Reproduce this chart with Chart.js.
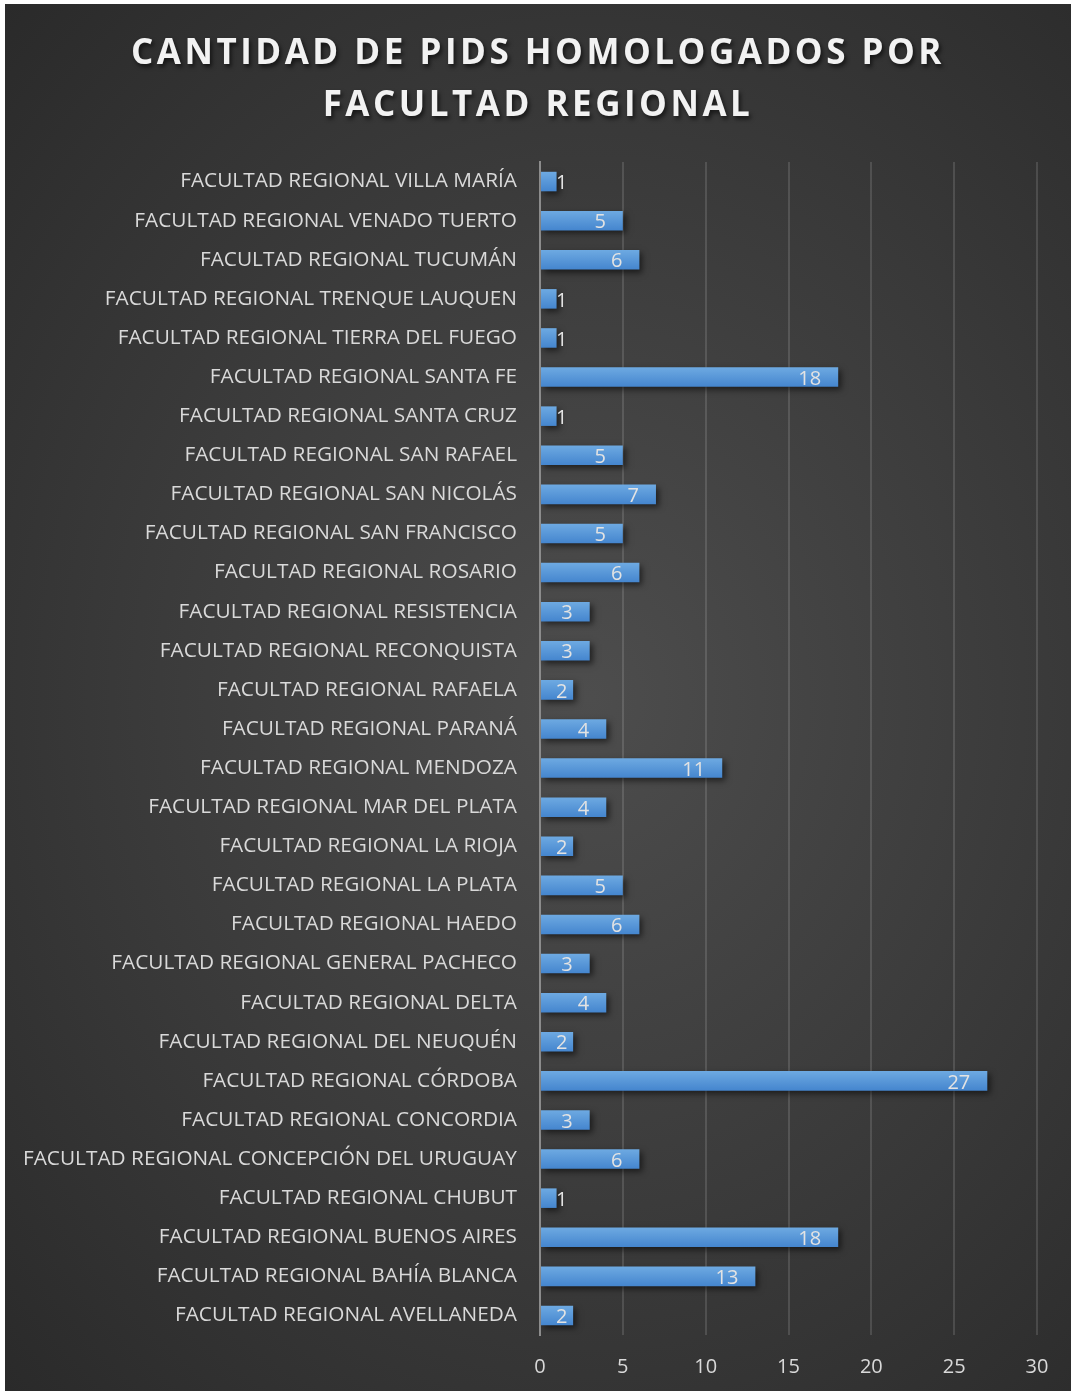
<!DOCTYPE html>
<html>
<head>
<meta charset="utf-8">
<script src="https://cdn.jsdelivr.net/npm/chart.js@4"></script>
<style>
    html, body { margin: 0; padding: 0; background: #ffffff; }
    #wrap {
        position: absolute; left: 5px; top: 4px; width: 1066px; height: 1387px;
        background: radial-gradient(ellipse at 55% 50%, #4d4d4d 0%, #3a3a3a 55%, #2a2a2a 100%);
    }
    #title {
        position: absolute; left: 0; top: 21px; width: 100%;
        text-align: center; color: #f2f2f2;
        font-family: "Open Sans", sans-serif; font-weight: bold; font-size: 35px;
        letter-spacing: 3.5px; line-height: 52px;
        text-shadow: 2px 3px 4px rgba(0, 0, 0, 0.6);
    }
    canvas { position: absolute; left: 0; top: 0; }
</style>
</head>
<body>
<div id="wrap">
    <canvas id="barChart" width="1066" height="1387"></canvas>
    <div id="title">CANTIDAD DE PIDS HOMOLOGADOS POR<br>FACULTAD REGIONAL</div>
</div>
<script>
// categories, top to bottom as in the picture
const facultades = [
    "FACULTAD REGIONAL VILLA MARÍA",
    "FACULTAD REGIONAL VENADO TUERTO",
    "FACULTAD REGIONAL TUCUMÁN",
    "FACULTAD REGIONAL TRENQUE LAUQUEN",
    "FACULTAD REGIONAL TIERRA DEL FUEGO",
    "FACULTAD REGIONAL SANTA FE",
    "FACULTAD REGIONAL SANTA CRUZ",
    "FACULTAD REGIONAL SAN RAFAEL",
    "FACULTAD REGIONAL SAN NICOLÁS",
    "FACULTAD REGIONAL SAN FRANCISCO",
    "FACULTAD REGIONAL ROSARIO",
    "FACULTAD REGIONAL RESISTENCIA",
    "FACULTAD REGIONAL RECONQUISTA",
    "FACULTAD REGIONAL RAFAELA",
    "FACULTAD REGIONAL PARANÁ",
    "FACULTAD REGIONAL MENDOZA",
    "FACULTAD REGIONAL MAR DEL PLATA",
    "FACULTAD REGIONAL LA RIOJA",
    "FACULTAD REGIONAL LA PLATA",
    "FACULTAD REGIONAL HAEDO",
    "FACULTAD REGIONAL GENERAL PACHECO",
    "FACULTAD REGIONAL DELTA",
    "FACULTAD REGIONAL DEL NEUQUÉN",
    "FACULTAD REGIONAL CÓRDOBA",
    "FACULTAD REGIONAL CONCORDIA",
    "FACULTAD REGIONAL CONCEPCIÓN DEL URUGUAY",
    "FACULTAD REGIONAL CHUBUT",
    "FACULTAD REGIONAL BUENOS AIRES",
    "FACULTAD REGIONAL BAHÍA BLANCA",
    "FACULTAD REGIONAL AVELLANEDA"
];

const cantidadPids = [1, 5, 6, 1, 1, 18, 1, 5, 7, 5, 6, 3, 3, 2, 4, 11, 4, 2, 5, 6, 3, 4, 2, 27, 3, 6, 1, 18, 13, 2];

const xTicks = [0, 5, 10, 15, 20, 25, 30];

const FONT = "'Open Sans', sans-serif";
const TEXT_COLOR = "#d9d9d9";

// vertical gradient for each bar (lighter at the top)
function barGradient(context) {
    const chart = context.chart;
    const yScale = chart.scales.y;
    if (!yScale || context.dataIndex === undefined) return "#5b9bd5";
    const yc = yScale.getPixelForValue(context.dataIndex);
    if (!isFinite(yc)) return "#5b9bd5";
    const g = chart.ctx.createLinearGradient(0, yc - 10, 0, yc + 10);
    g.addColorStop(0, "#6eaae2");
    g.addColorStop(1, "#4485ce");
    return g;
}

// soft shadow under the bars
const barShadow = {
    id: "barShadow",
    beforeDatasetsDraw(chart) {
        const ctx = chart.ctx;
        ctx.save();
        ctx.shadowColor = "rgba(0, 0, 0, 0.55)";
        ctx.shadowBlur = 6;
        ctx.shadowOffsetX = 3;
        ctx.shadowOffsetY = 3;
    },
    afterDatasetsDraw(chart) {
        chart.ctx.restore();
    }
};

// value labels at the inner end of each bar
const valueLabels = {
    id: "valueLabels",
    afterDatasetsDraw(chart) {
        const ctx = chart.ctx;
        const meta = chart.getDatasetMeta(0);
        const x0 = chart.scales.x.getPixelForValue(0);
        ctx.save();
        ctx.font = "20px " + FONT;
        ctx.fillStyle = "#e3e3e3";
        ctx.textBaseline = "middle";
        ctx.textAlign = "left";
        meta.data.forEach(function (bar, i) {
            const text = String(cantidadPids[i]);
            const w = ctx.measureText(text).width;
            let left = bar.x - 17 - w;
            if (left < x0 + 15) left = x0 + 16;
            ctx.fillText(text, left, bar.y + 2);
        });
        ctx.restore();
    }
};

let ctx = document.getElementById("barChart").getContext("2d");
new Chart(ctx, {
    type: "bar",
    data: {
        labels: facultades,
        datasets: [
            {
                label: "Cantidad de PIDs",
                data: cantidadPids,
                backgroundColor: barGradient,
                borderWidth: 0,
                barPercentage: 0.5,
                categoryPercentage: 1.0,
            },
        ],
    },
    options: {
        indexAxis: "y",
        responsive: false,
        animation: false,
        layout: {
            padding: { top: 158, right: 34, bottom: 0, left: 0 },
        },
        plugins: {
            legend: { display: false },
            tooltip: { enabled: false },
        },
        scales: {
            x: {
                min: 0,
                max: 30,
                afterBuildTicks: function (scale) {
                    scale.ticks = xTicks.map(function (v) { return { value: v }; });
                },
                afterFit: function (scale) { scale.height = 56; },
                grid: {
                    color: "rgba(255, 255, 255, 0.13)",
                    lineWidth: 2,
                    drawTicks: false,
                },
                border: { display: false },
                ticks: {
                    color: TEXT_COLOR,
                    font: { family: FONT, size: 20 },
                    padding: 20,
                },
            },
            y: {
                afterFit: function (scale) { scale.width = 535; },
                grid: { display: false, drawTicks: false },
                border: { display: true, color: "#8c8c8c", width: 2 },
                ticks: {
                    color: TEXT_COLOR,
                    font: { family: FONT, size: 20.8 },
                    padding: 23,
                    autoSkip: false,
                },
            },
        },
    },
    plugins: [barShadow, valueLabels],
});
</script>
</body>
</html>
